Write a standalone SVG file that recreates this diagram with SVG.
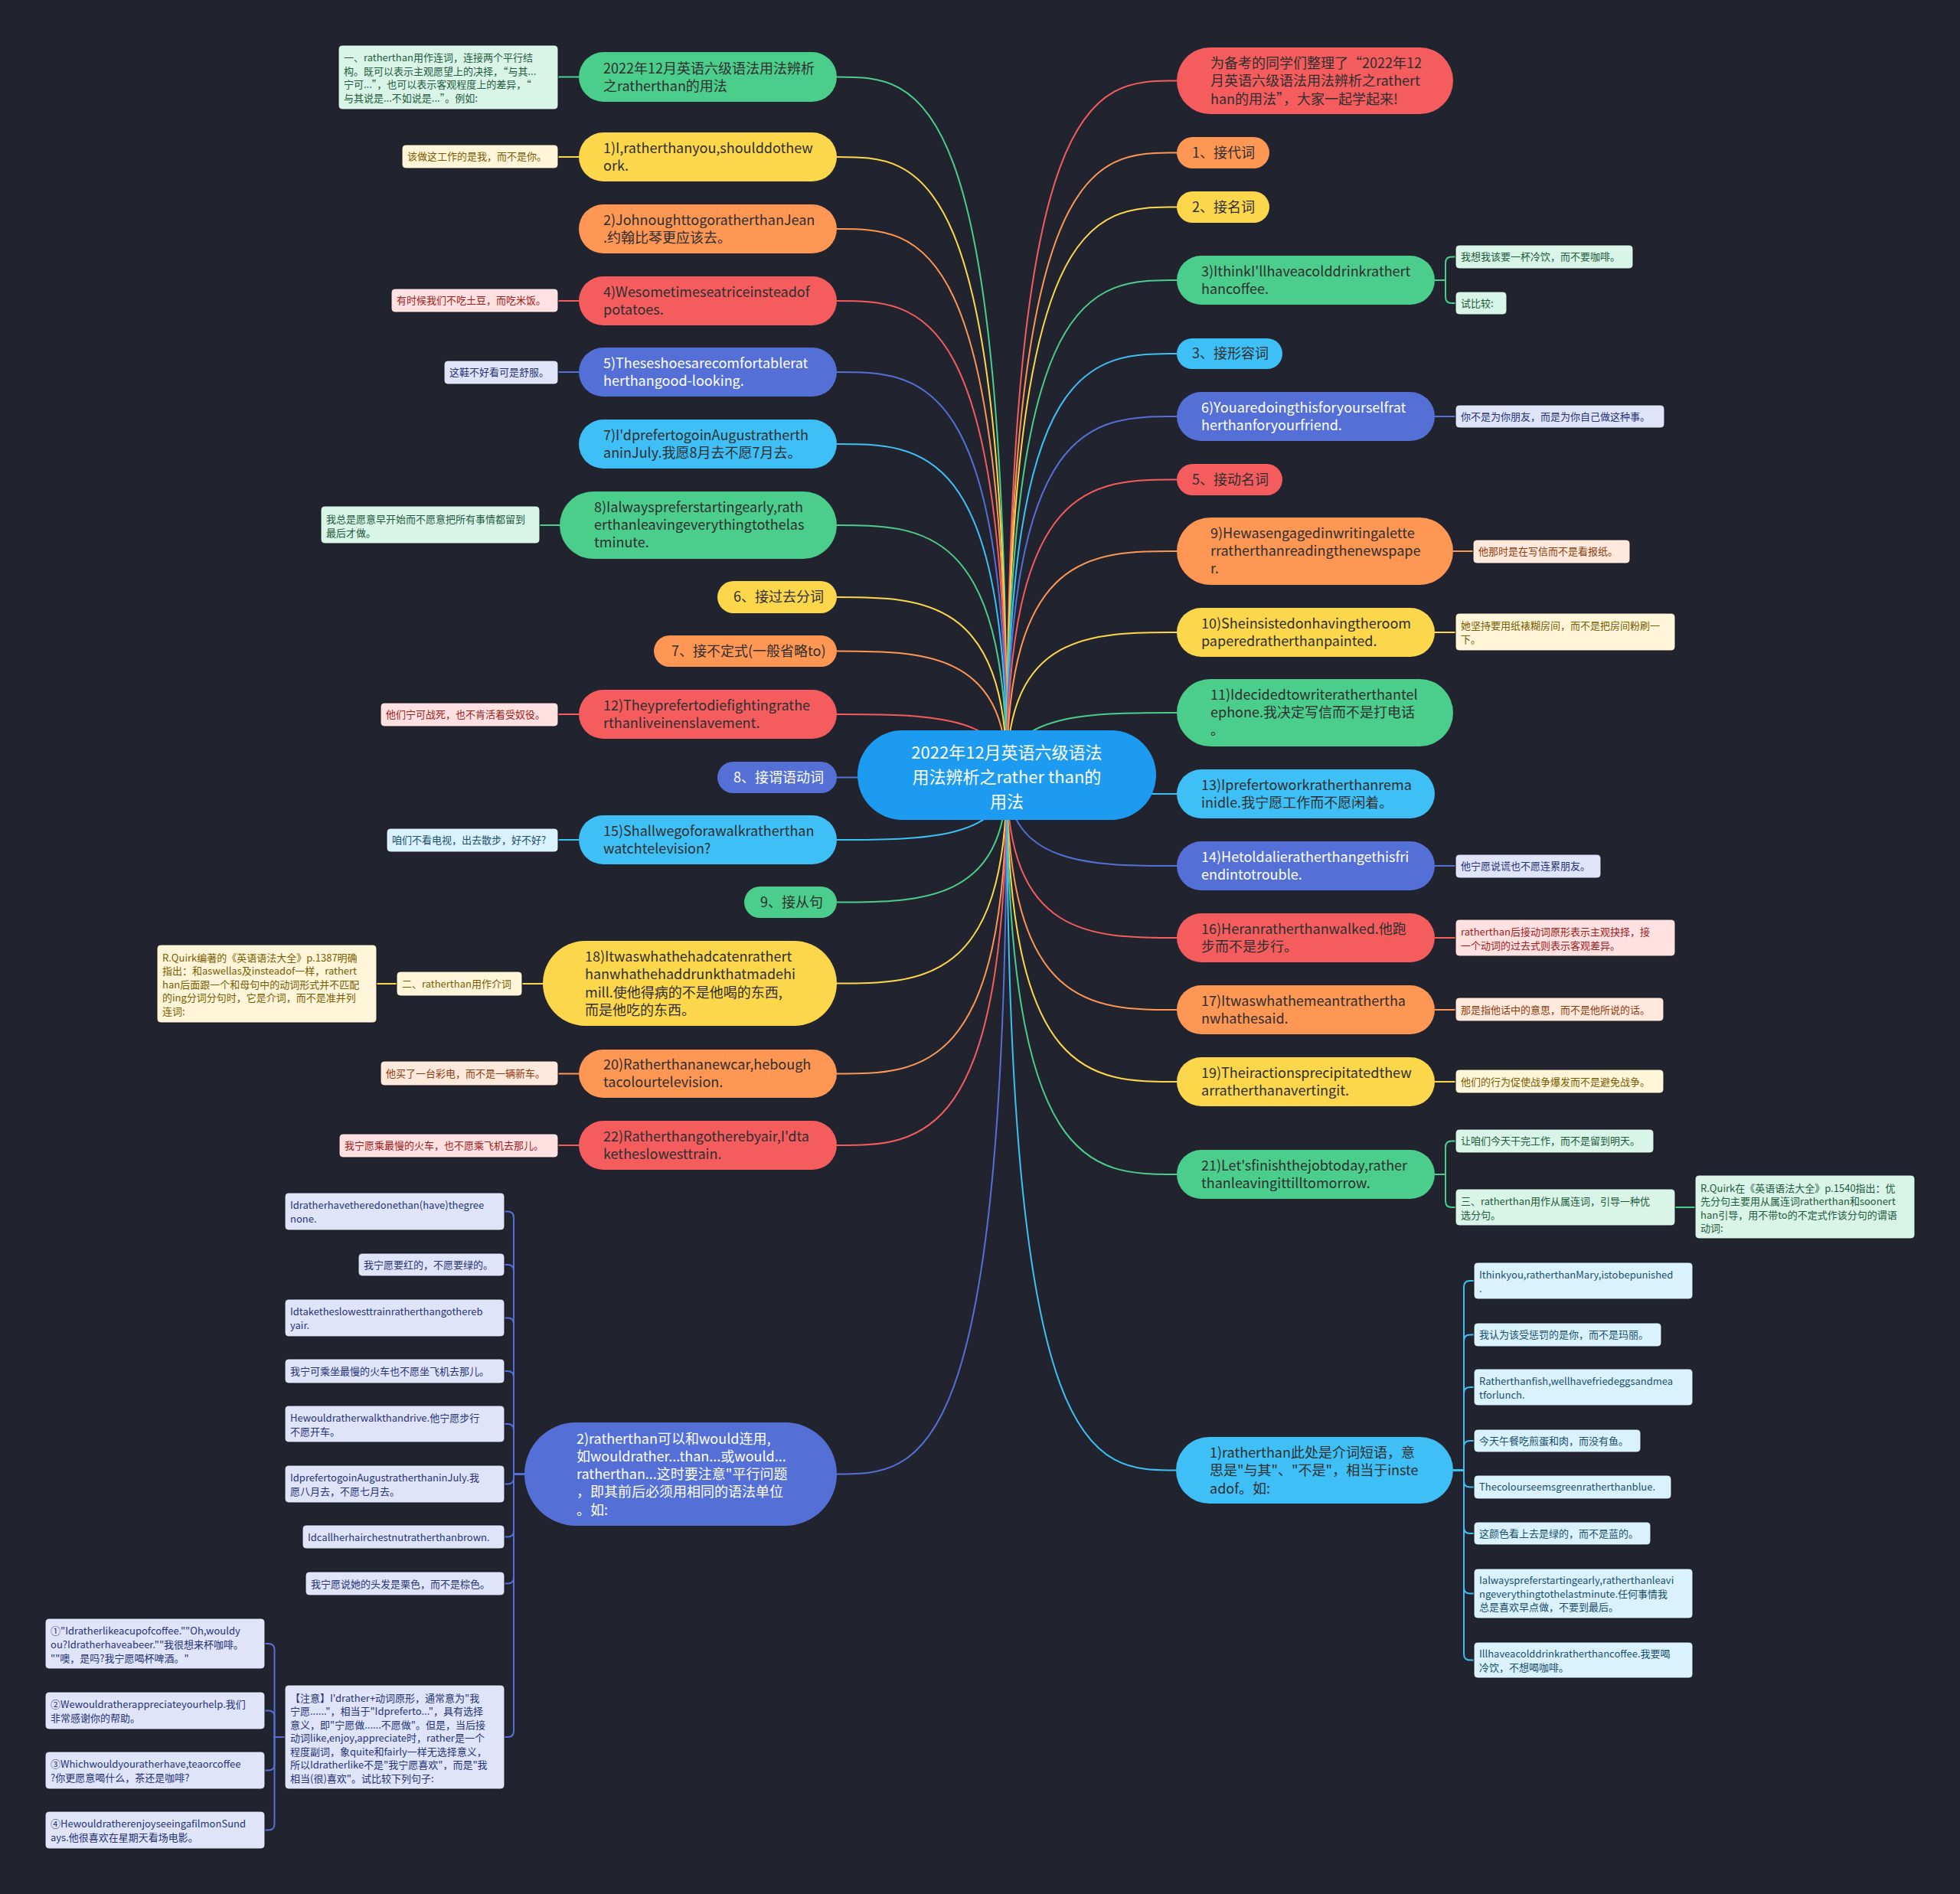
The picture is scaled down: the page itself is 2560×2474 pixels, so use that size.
<svg xmlns="http://www.w3.org/2000/svg" width="2560" height="2474" viewBox="0 0 2560 2474">
<style>
text{font-family:"Noto Sans CJK SC","Noto Sans",sans-serif;}
.m{font-size:18px;fill:#2f2f2f}
.mw{font-size:18px;fill:#ffffff}
.s{font-size:13px}
.ctr{font-size:22px;fill:#ffffff;text-anchor:middle}
.fg{fill:#4bcd8b}.fy{fill:#fdd74b}.fo{fill:#fe9654}.fr{fill:#f45c5e}.fb{fill:#5470d6}.fc{fill:#3ebff5}
.cg,.cy,.co,.cr,.cb,.cc{fill:none;stroke-width:2}
.cg{stroke:#4bcd8b}.cy{stroke:#fdd74b}.co{stroke:#fe9654}.cr{stroke:#f45c5e}.cb{stroke:#5470d6}.cc{stroke:#3ebff5}
.bg-g{fill:#d9f5e7}.bg-y{fill:#fff6d9}.bg-o{fill:#ffe8dc}.bg-r{fill:#ffe1e1}.bg-b{fill:#dfe4f8}.bg-c{fill:#d9f2fd}
.tg{fill:#1f5a3c}.ty{fill:#7a5a00}.to{fill:#8f3b0c}.tr{fill:#a01a1a}.tb{fill:#26337a}.tc{fill:#1a4f6e}
.sub{stroke:#15171f;stroke-width:1}
</style>
<rect x="0" y="0" width="2560" height="2474" fill="#21242f"/>

<g id="connectors">
<!-- center to left -->
<path class="cg" d="M1315 1013 C1315 100.5,1204 100.5,1093 100.5"/>
<path class="cy" d="M1315 1013 C1315 205,1204 205,1093 205"/>
<path class="co" d="M1315 1013 C1315 299,1204 299,1093 299"/>
<path class="cr" d="M1315 1013 C1315 393,1204 393,1093 393"/>
<path class="cb" d="M1315 1013 C1315 486,1204 486,1093 486"/>
<path class="cc" d="M1315 1013 C1315 580,1204 580,1093 580"/>
<path class="cg" d="M1315 1013 C1315 686,1204 686,1093 686"/>
<path class="cy" d="M1315 1013 C1315 780,1204 780,1093 780"/>
<path class="co" d="M1315 1013 C1315 850.5,1204 850.5,1093 850.5"/>
<path class="cr" d="M1315 1013 C1315 933,1204 933,1093 933"/>
<path class="cb" d="M1315 1013 C1315 1015.5,1204 1015.5,1093 1015.5"/>
<path class="cc" d="M1315 1013 C1315 1097,1204 1097,1093 1097"/>
<path class="cg" d="M1315 1013 C1315 1178.5,1204 1178.5,1093 1178.5"/>
<path class="cy" d="M1315 1013 C1315 1284.5,1204 1284.5,1093 1284.5"/>
<path class="co" d="M1315 1013 C1315 1402.5,1204 1402.5,1093 1402.5"/>
<path class="cr" d="M1315 1013 C1315 1496,1204 1496,1093 1496"/>
<path class="cb" d="M1315 1013 C1315 1925.5,1204 1925.5,1093 1925.5"/>
<!-- center to right -->
<path class="cr" d="M1315 1013 C1315 105.5,1426 105.5,1537 105.5"/>
<path class="co" d="M1315 1013 C1315 199.5,1426 199.5,1537 199.5"/>
<path class="cy" d="M1315 1013 C1315 270.5,1426 270.5,1537 270.5"/>
<path class="cg" d="M1315 1013 C1315 366,1426 366,1537 366"/>
<path class="cc" d="M1315 1013 C1315 462,1426 462,1537 462"/>
<path class="cb" d="M1315 1013 C1315 544,1426 544,1537 544"/>
<path class="cr" d="M1315 1013 C1315 626.5,1426 626.5,1537 626.5"/>
<path class="co" d="M1315 1013 C1315 720,1426 720,1537 720"/>
<path class="cy" d="M1315 1013 C1315 826,1426 826,1537 826"/>
<path class="cg" d="M1315 1013 C1315 931,1426 931,1537 931"/>
<path class="cc" d="M1315 1013 C1315 1037,1426 1037,1537 1037"/>
<path class="cb" d="M1315 1013 C1315 1131,1426 1131,1537 1131"/>
<path class="cr" d="M1315 1013 C1315 1225,1426 1225,1537 1225"/>
<path class="co" d="M1315 1013 C1315 1319,1426 1319,1537 1319"/>
<path class="cy" d="M1315 1013 C1315 1413,1426 1413,1537 1413"/>
<path class="cg" d="M1315 1013 C1315 1534,1426 1534,1537 1534"/>
<path class="cc" d="M1315 1013 C1315 1920.5,1426 1920.5,1537 1920.5"/>
<!-- left sub connectors -->
<path class="cg" d="M729 100.5 H756"/>
<path class="cy" d="M729 205 H756"/>
<path class="cr" d="M729 393 H756"/>
<path class="cb" d="M729 486 H756"/>
<path class="cg" d="M705 686 H731"/>
<path class="cr" d="M729 933 H756"/>
<path class="cc" d="M729 1097 H756"/>
<path class="cy" d="M682 1285 H709"/>
<path class="cy" d="M492 1285 H518"/>
<path class="co" d="M729 1402.5 H756"/>
<path class="cr" d="M729 1496 H756"/>
<path class="cb" d="M685 1925.5 H671 V1590.5 Q671 1582.5 663 1582.5 H659"/>
<path class="cb" d="M685 1925.5 H671 V1660 Q671 1652 663 1652 H659"/>
<path class="cb" d="M685 1925.5 H671 V1729.5 Q671 1721.5 663 1721.5 H659"/>
<path class="cb" d="M685 1925.5 H671 V1799 Q671 1791 663 1791 H659"/>
<path class="cb" d="M685 1925.5 H671 V1868 Q671 1860 663 1860 H659"/>
<path class="cb" d="M685 1925.5 H671 V1930.5 Q671 1938.5 663 1938.5 H659"/>
<path class="cb" d="M685 1925.5 H671 V1999.5 Q671 2007.5 663 2007.5 H659"/>
<path class="cb" d="M685 1925.5 H671 V2060.5 Q671 2068.5 663 2068.5 H659"/>
<path class="cb" d="M685 1925.5 H671 V2261 Q671 2269 663 2269 H659"/>
<path class="cb" d="M372 2269 H358.5 V2155 Q358.5 2147 350.5 2147 H345.5"/>
<path class="cb" d="M372 2269 H358.5 V2242.5 Q358.5 2234.5 350.5 2234.5 H345.5"/>
<path class="cb" d="M372 2269 H358.5 V2304.5 Q358.5 2312.5 350.5 2312.5 H345.5"/>
<path class="cb" d="M372 2269 H358.5 V2382.5 Q358.5 2390.5 350.5 2390.5 H345.5"/>
<!-- right sub connectors -->
<path class="cg" d="M1874 366 H1888 V343.5 Q1888 335.5 1896 335.5 H1901"/>
<path class="cg" d="M1874 366 H1888 V388 Q1888 396 1896 396 H1901"/>
<path class="cb" d="M1874 544 H1901"/>
<path class="co" d="M1898 720 H1924"/>
<path class="cy" d="M1874 826 H1901"/>
<path class="cb" d="M1874 1131 H1901"/>
<path class="cr" d="M1874 1225 H1901"/>
<path class="co" d="M1874 1319 H1901"/>
<path class="cy" d="M1874 1413 H1901"/>
<path class="cg" d="M1874 1534 H1888 V1498.5 Q1888 1490.5 1896 1490.5 H1901"/>
<path class="cg" d="M1874 1534 H1888 V1569 Q1888 1577 1896 1577 H1901"/>
<path class="cg" d="M2188 1577 H2214"/>
<path class="cc" d="M1898 1920.5 H1912 V1681 Q1912 1673 1920 1673 H1925"/>
<path class="cc" d="M1898 1920.5 H1912 V1751.5 Q1912 1743.5 1920 1743.5 H1925"/>
<path class="cc" d="M1898 1920.5 H1912 V1820 Q1912 1812 1920 1812 H1925"/>
<path class="cc" d="M1898 1920.5 H1912 V1890 Q1912 1882 1920 1882 H1925"/>
<path class="cc" d="M1898 1920.5 H1912 V1934.5 Q1912 1942.5 1920 1942.5 H1925"/>
<path class="cc" d="M1898 1920.5 H1912 V1995 Q1912 2003 1920 2003 H1925"/>
<path class="cc" d="M1898 1920.5 H1912 V2073.5 Q1912 2081.5 1920 2081.5 H1925"/>
<path class="cc" d="M1898 1920.5 H1912 V2160.5 Q1912 2168.5 1920 2168.5 H1925"/>
</g>

<g id="center">
<rect x="1120" y="954" width="390" height="117" rx="58.5" fill="#1d9bf0"/>
<text class="ctr" x="1315" y="991">2022年12月英语六级语法</text>
<text class="ctr" x="1315" y="1023">用法辨析之rather than的</text>
<text class="ctr" x="1315" y="1055">用法</text>
</g>

<!-- LEFT MAIN NODES -->
<g id="L1"><rect class="fg" x="756" y="68" width="337" height="65" rx="32.5"/>
<text class="m" x="788" y="96">2022年12月英语六级语法用法辨析</text><text class="m" x="788" y="119">之ratherthan的用法</text></g>
<g id="L2"><rect class="fy" x="756" y="173" width="337" height="64" rx="32"/>
<text class="m" x="788" y="200">1)I,ratherthanyou,shoulddothew</text><text class="m" x="788" y="223">ork.</text></g>
<g id="L3"><rect class="fo" x="756" y="267" width="337" height="64" rx="32"/>
<text class="m" x="788" y="294">2)JohnoughttogoratherthanJean</text><text class="m" x="788" y="317">.约翰比琴更应该去。</text></g>
<g id="L4"><rect class="fr" x="756" y="361" width="337" height="64" rx="32"/>
<text class="m" x="788" y="388">4)Wesometimeseatriceinsteadof</text><text class="m" x="788" y="411">potatoes.</text></g>
<g id="L5"><rect class="fb" x="756" y="454" width="337" height="64" rx="32"/>
<text class="mw" x="788" y="481">5)Theseshoesarecomfortablerat</text><text class="mw" x="788" y="504">herthangood-looking.</text></g>
<g id="L6"><rect class="fc" x="756" y="548" width="337" height="64" rx="32"/>
<text class="m" x="788" y="575">7)I'dprefertogoinAugustratherth</text><text class="m" x="788" y="598">aninJuly.我愿8月去不愿7月去。</text></g>
<g id="L7"><rect class="fg" x="731" y="642" width="362" height="88" rx="44"/>
<text class="m" x="776" y="669">8)Ialwayspreferstartingearly,rath</text><text class="m" x="776" y="692">erthanleavingeverythingtothelas</text><text class="m" x="776" y="715">tminute.</text></g>
<g id="L8"><rect class="fy" x="937" y="759" width="156" height="42" rx="21"/>
<text class="m" x="958" y="786">6、接过去分词</text></g>
<g id="L9"><rect class="fo" x="854" y="830" width="239" height="41" rx="20.5"/>
<text class="m" x="877" y="857">7、接不定式(一般省略to)</text></g>
<g id="L10"><rect class="fr" x="756" y="901" width="337" height="64" rx="32"/>
<text class="m" x="788" y="928">12)Theyprefertodiefightingrathe</text><text class="m" x="788" y="951">rthanliveinenslavement.</text></g>
<g id="L11"><rect class="fb" x="937" y="995" width="156" height="41" rx="20.5"/>
<text class="mw" x="958" y="1022">8、接谓语动词</text></g>
<g id="L12"><rect class="fc" x="756" y="1065" width="337" height="64" rx="32"/>
<text class="m" x="788" y="1092">15)Shallwegoforawalkratherthan</text><text class="m" x="788" y="1115">watchtelevision?</text></g>
<g id="L13"><rect class="fg" x="972" y="1158" width="121" height="41" rx="20.5"/>
<text class="m" x="993" y="1185">9、接从句</text></g>
<g id="L14"><rect class="fy" x="709" y="1229" width="384" height="111" rx="55.5"/>
<text class="m" x="764" y="1256">18)Itwaswhathehadcatenrathert</text><text class="m" x="764" y="1279">hanwhathehaddrunkthatmadehi</text><text class="m" x="764" y="1303">mill.使他得病的不是他喝的东西,</text><text class="m" x="764" y="1326">而是他吃的东西。</text></g>
<g id="L15"><rect class="fo" x="756" y="1371" width="337" height="63" rx="31.5"/>
<text class="m" x="788" y="1397">20)Ratherthananewcar,hebough</text><text class="m" x="788" y="1420">tacolourtelevision.</text></g>
<g id="L16"><rect class="fr" x="756" y="1464" width="337" height="64" rx="32"/>
<text class="m" x="788" y="1491">22)Ratherthangotherebyair,I'dta</text><text class="m" x="788" y="1514">ketheslowesttrain.</text></g>
<g id="L17"><rect class="fb" x="685" y="1858" width="408" height="135" rx="67.5"/>
<text class="mw" x="753" y="1886">2)ratherthan可以和would连用,</text><text class="mw" x="753" y="1909">如wouldrather...than...或would...</text><text class="mw" x="753" y="1932">ratherthan...这时要注意"平行问题</text><text class="mw" x="753" y="1955">，即其前后必须用相同的语法单位</text><text class="mw" x="753" y="1979">。如:</text></g>

<!-- LEFT SUB NODES -->
<g id="S1"><rect class="bg-g sub" x="442" y="59" width="287" height="84" rx="5"/>
<text class="s tg" x="449" y="80">一、ratherthan用作连词，连接两个平行结</text><text class="s tg" x="449" y="98">构。既可以表示主观愿望上的决择，“与其...</text><text class="s tg" x="449" y="115">宁可...”，也可以表示客观程度上的差异，“</text><text class="s tg" x="449" y="133">与其说是...不如说是...”。例如:</text></g>
<g id="S2"><rect class="bg-y sub" x="525" y="189" width="204" height="31" rx="5"/><text class="s ty" x="532" y="209">该做这工作的是我，而不是你。</text></g>
<g id="S3"><rect class="bg-r sub" x="511" y="377" width="218" height="31" rx="5"/><text class="s tr" x="518" y="397">有时候我们不吃土豆，而吃米饭。</text></g>
<g id="S4"><rect class="bg-b sub" x="580" y="471" width="149" height="31" rx="5"/><text class="s tb" x="587" y="491">这鞋不好看可是舒服。</text></g>
<g id="S5"><rect class="bg-g sub" x="419" y="661" width="286" height="49" rx="5"/><text class="s tg" x="426" y="683">我总是愿意早开始而不愿意把所有事情都留到</text><text class="s tg" x="426" y="701">最后才做。</text></g>
<g id="S6"><rect class="bg-r sub" x="497" y="918" width="232" height="31" rx="5"/><text class="s tr" x="504" y="938">他们宁可战死，也不肯活着受奴役。</text></g>
<g id="S7"><rect class="bg-c sub" x="505" y="1082" width="224" height="31" rx="5"/><text class="s tc" x="512" y="1102">咱们不看电视，出去散步，好不好?</text></g>
<g id="S8"><rect class="bg-y sub" x="518" y="1269" width="164" height="32" rx="5"/><text class="s ty" x="525" y="1290">二、ratherthan用作介词</text></g>
<g id="S9"><rect class="bg-y sub" x="205" y="1234" width="287" height="102" rx="5"/>
<text class="s ty" x="212" y="1256">R.Quirk编著的《英语语法大全》p.1387明确</text><text class="s ty" x="212" y="1273">指出：和aswellas及insteadof一样，rathert</text><text class="s ty" x="212" y="1291">han后面跟一个和母句中的动词形式并不匹配</text><text class="s ty" x="212" y="1308">的ing分词分句时，它是介词，而不是准并列</text><text class="s ty" x="212" y="1326">连词:</text></g>
<g id="S10"><rect class="bg-o sub" x="497" y="1386" width="232" height="32" rx="5"/><text class="s to" x="504" y="1407">他买了一台彩电，而不是一辆新车。</text></g>
<g id="S11"><rect class="bg-r sub" x="443" y="1481" width="286" height="31" rx="5"/><text class="s tr" x="450" y="1501">我宁愿乘最慢的火车，也不愿乘飞机去那儿。</text></g>

<g id="K1"><rect class="bg-b sub" x="372" y="1558" width="287" height="49" rx="5"/><text class="s tb" x="379" y="1579">Idratherhavetheredonethan(have)thegree</text><text class="s tb" x="379" y="1597">none.</text></g>
<g id="K2"><rect class="bg-b sub" x="468" y="1637" width="191" height="30" rx="5"/><text class="s tb" x="475" y="1656.5">我宁愿要红的，不愿要绿的。</text></g>
<g id="K3"><rect class="bg-b sub" x="372" y="1697" width="287" height="49" rx="5"/><text class="s tb" x="379" y="1718">Idtaketheslowesttrainratherthangothereb</text><text class="s tb" x="379" y="1736">yair.</text></g>
<g id="K4"><rect class="bg-b sub" x="372" y="1775" width="287" height="32" rx="5"/><text class="s tb" x="379" y="1795.5">我宁可乘坐最慢的火车也不愿坐飞机去那儿。</text></g>
<g id="K5"><rect class="bg-b sub" x="372" y="1836" width="287" height="48" rx="5"/><text class="s tb" x="379" y="1857">Hewouldratherwalkthandrive.他宁愿步行</text><text class="s tb" x="379" y="1875">不愿开车。</text></g>
<g id="K6"><rect class="bg-b sub" x="372" y="1914" width="287" height="49" rx="5"/><text class="s tb" x="379" y="1935">IdprefertogoinAugustratherthaninJuly.我</text><text class="s tb" x="379" y="1953">愿八月去，不愿七月去。</text></g>
<g id="K7"><rect class="bg-b sub" x="395" y="1992" width="264" height="31" rx="5"/><text class="s tb" x="402" y="2012.5">Idcallherhairchestnutratherthanbrown.</text></g>
<g id="K8"><rect class="bg-b sub" x="399" y="2053" width="260" height="31" rx="5"/><text class="s tb" x="406" y="2073.5">我宁愿说她的头发是栗色，而不是棕色。</text></g>
<g id="K9"><rect class="bg-b sub" x="372" y="2201" width="287" height="136" rx="5"/>
<text class="s tb" x="379" y="2222.5">【注意】I'drather+动词原形，通常意为"我</text><text class="s tb" x="379" y="2240">宁愿......"，相当于"Idpreferto..."，具有选择</text><text class="s tb" x="379" y="2257.5">意义，即"宁愿做......不愿做"。但是，当后接</text><text class="s tb" x="379" y="2275">动词like,enjoy,appreciate时，rather是一个</text><text class="s tb" x="379" y="2292.5">程度副词，象quite和fairly一样无选择意义，</text><text class="s tb" x="379" y="2310">所以Idratherlike不是"我宁愿喜欢"，而是"我</text><text class="s tb" x="379" y="2327.5">相当(很)喜欢"。试比较下列句子:</text></g>
<g id="Q1"><rect class="bg-b sub" x="59" y="2114" width="287" height="66" rx="5"/><text class="s tb" x="66" y="2134.5">①"Idratherlikeacupofcoffee.""Oh,wouldy</text><text class="s tb" x="66" y="2152.5">ou?Idratherhaveabeer.""我很想来杯咖啡。</text><text class="s tb" x="66" y="2170.5">""噢，是吗?我宁愿喝杯啤酒。"</text></g>
<g id="Q2"><rect class="bg-b sub" x="59" y="2210" width="287" height="49" rx="5"/><text class="s tb" x="66" y="2231">②Wewouldratherappreciateyourhelp.我们</text><text class="s tb" x="66" y="2249">非常感谢你的帮助。</text></g>
<g id="Q3"><rect class="bg-b sub" x="59" y="2288" width="287" height="49" rx="5"/><text class="s tb" x="66" y="2309">③Whichwouldyouratherhave,teaorcoffee</text><text class="s tb" x="66" y="2327">?你更愿意喝什么，茶还是咖啡?</text></g>
<g id="Q4"><rect class="bg-b sub" x="59" y="2366" width="287" height="49" rx="5"/><text class="s tb" x="66" y="2387">④HewouldratherenjoyseeingafilmonSund</text><text class="s tb" x="66" y="2405">ays.他很喜欢在星期天看场电影。</text></g>

<!-- RIGHT MAIN NODES -->
<g id="R1"><rect class="fr" x="1537" y="62" width="361" height="87" rx="43.5"/>
<text class="m" x="1581" y="89">为备考的同学们整理了“2022年12</text><text class="m" x="1581" y="112">月英语六级语法用法辨析之rathert</text><text class="m" x="1581" y="136">han的用法”，大家一起学起来!</text></g>
<g id="R2"><rect class="fo" x="1537" y="179" width="121" height="41" rx="20.5"/><text class="m" x="1557" y="206">1、接代词</text></g>
<g id="R3"><rect class="fy" x="1537" y="250" width="121" height="41" rx="20.5"/><text class="m" x="1557" y="277">2、接名词</text></g>
<g id="R4"><rect class="fg" x="1537" y="334" width="337" height="64" rx="32"/>
<text class="m" x="1569" y="361">3)IthinkI'llhaveacolddrinkrathert</text><text class="m" x="1569" y="384">hancoffee.</text></g>
<g id="R5"><rect class="fc" x="1537" y="442" width="138" height="40" rx="20"/><text class="m" x="1557" y="468">3、接形容词</text></g>
<g id="R6"><rect class="fb" x="1537" y="512" width="337" height="64" rx="32"/>
<text class="mw" x="1569" y="539">6)Youaredoingthisforyourselfrat</text><text class="mw" x="1569" y="562">herthanforyourfriend.</text></g>
<g id="R7"><rect class="fr" x="1537" y="606" width="138" height="41" rx="20.5"/><text class="m" x="1557" y="633">5、接动名词</text></g>
<g id="R8"><rect class="fo" x="1537" y="676" width="361" height="88" rx="44"/>
<text class="m" x="1581" y="703">9)Hewasengagedinwritingalette</text><text class="m" x="1581" y="726">rratherthanreadingthenewspape</text><text class="m" x="1581" y="749">r.</text></g>
<g id="R9"><rect class="fy" x="1537" y="794" width="337" height="64" rx="32"/>
<text class="m" x="1569" y="821">10)Sheinsistedonhavingtheroom</text><text class="m" x="1569" y="844">paperedratherthanpainted.</text></g>
<g id="R10"><rect class="fg" x="1537" y="887" width="361" height="88" rx="44"/>
<text class="m" x="1581" y="914">11)Idecidedtowriteratherthantel</text><text class="m" x="1581" y="937">ephone.我决定写信而不是打电话</text><text class="m" x="1581" y="960">。</text></g>
<g id="R11"><rect class="fc" x="1537" y="1005" width="337" height="64" rx="32"/>
<text class="m" x="1569" y="1032">13)Iprefertoworkratherthanrema</text><text class="m" x="1569" y="1055">inidle.我宁愿工作而不愿闲着。</text></g>
<g id="R12"><rect class="fb" x="1537" y="1099" width="337" height="64" rx="32"/>
<text class="mw" x="1569" y="1126">14)Hetoldalieratherthangethisfri</text><text class="mw" x="1569" y="1149">endintotrouble.</text></g>
<g id="R13"><rect class="fr" x="1537" y="1193" width="337" height="64" rx="32"/>
<text class="m" x="1569" y="1220">16)Heranratherthanwalked.他跑</text><text class="m" x="1569" y="1243">步而不是步行。</text></g>
<g id="R14"><rect class="fo" x="1537" y="1287" width="337" height="64" rx="32"/>
<text class="m" x="1569" y="1314">17)Itwaswhathemeantrathertha</text><text class="m" x="1569" y="1337">nwhathesaid.</text></g>
<g id="R15"><rect class="fy" x="1537" y="1381" width="337" height="64" rx="32"/>
<text class="m" x="1569" y="1408">19)Theiractionsprecipitatedthew</text><text class="m" x="1569" y="1431">arratherthanavertingit.</text></g>
<g id="R16"><rect class="fg" x="1537" y="1502" width="337" height="64" rx="32"/>
<text class="m" x="1569" y="1529">21)Let'sfinishthejobtoday,rather</text><text class="m" x="1569" y="1552">thanleavingittilltomorrow.</text></g>
<g id="R17"><rect class="fc" x="1536" y="1877" width="362" height="87" rx="43.5"/>
<text class="m" x="1580" y="1904">1)ratherthan此处是介词短语，意</text><text class="m" x="1580" y="1927">思是"与其"、"不是"，相当于inste</text><text class="m" x="1580" y="1951">adof。如:</text></g>

<!-- RIGHT SUB NODES -->
<g id="RS1"><rect class="bg-g sub" x="1901" y="320" width="232" height="31" rx="5"/><text class="s tg" x="1908" y="340">我想我该要一杯冷饮，而不要咖啡。</text></g>
<g id="RS2"><rect class="bg-g sub" x="1901" y="381" width="67" height="30" rx="5"/><text class="s tg" x="1908" y="400.5">试比较:</text></g>
<g id="RS3"><rect class="bg-b sub" x="1901" y="529" width="273" height="30" rx="5"/><text class="s tb" x="1908" y="548.5">你不是为你朋友，而是为你自己做这种事。</text></g>
<g id="RS4"><rect class="bg-o sub" x="1924" y="705" width="205" height="31" rx="5"/><text class="s to" x="1931" y="725">他那时是在写信而不是看报纸。</text></g>
<g id="RS5"><rect class="bg-y sub" x="1901" y="801" width="287" height="49" rx="5"/><text class="s ty" x="1908" y="822">她坚持要用纸裱糊房间，而不是把房间粉刷一</text><text class="s ty" x="1908" y="840">下。</text></g>
<g id="RS6"><rect class="bg-b sub" x="1901" y="1116" width="190" height="31" rx="5"/><text class="s tb" x="1908" y="1136">他宁愿说谎也不愿连累朋友。</text></g>
<g id="RS7"><rect class="bg-r sub" x="1901" y="1201" width="287" height="48" rx="5"/><text class="s tr" x="1908" y="1221.5">ratherthan后接动词原形表示主观抉择，接</text><text class="s tr" x="1908" y="1239.5">一个动词的过去式则表示客观差异。</text></g>
<g id="RS8"><rect class="bg-o sub" x="1901" y="1303" width="272" height="31" rx="5"/><text class="s to" x="1908" y="1323.5">那是指他话中的意思，而不是他所说的话。</text></g>
<g id="RS9"><rect class="bg-y sub" x="1901" y="1397" width="272" height="31" rx="5"/><text class="s ty" x="1908" y="1417.5">他们的行为促使战争爆发而不是避免战争。</text></g>
<g id="RS10"><rect class="bg-g sub" x="1901" y="1475" width="259" height="31" rx="5"/><text class="s tg" x="1908" y="1495">让咱们今天干完工作，而不是留到明天。</text></g>
<g id="RS11"><rect class="bg-g sub" x="1901" y="1553" width="287" height="48" rx="5"/><text class="s tg" x="1908" y="1573.5">三、ratherthan用作从属连词，引导一种优</text><text class="s tg" x="1908" y="1591.5">选分句。</text></g>
<g id="RS12"><rect class="bg-g sub" x="2214" y="1535" width="287" height="83" rx="5"/>
<text class="s tg" x="2221" y="1556.5">R.Quirk在《英语语法大全》p.1540指出：优</text><text class="s tg" x="2221" y="1574">先分句主要用从属连词ratherthan和soonert</text><text class="s tg" x="2221" y="1591.5">han引导，用不带to的不定式作该分句的谓语</text><text class="s tg" x="2221" y="1609">动词:</text></g>

<g id="C1"><rect class="bg-c sub" x="1925" y="1649" width="286" height="48" rx="5"/><text class="s tc" x="1932" y="1670">Ithinkyou,ratherthanMary,istobepunished</text><text class="s tc" x="1932" y="1688">.</text></g>
<g id="C2"><rect class="bg-c sub" x="1925" y="1728" width="245" height="31" rx="5"/><text class="s tc" x="1932" y="1748">我认为该受惩罚的是你，而不是玛丽。</text></g>
<g id="C3"><rect class="bg-c sub" x="1925" y="1788" width="286" height="48" rx="5"/><text class="s tc" x="1932" y="1809">Ratherthanfish,wellhavefriedeggsandmea</text><text class="s tc" x="1932" y="1827">tforlunch.</text></g>
<g id="C4"><rect class="bg-c sub" x="1925" y="1867" width="218" height="30" rx="5"/><text class="s tc" x="1932" y="1886.5">今天午餐吃煎蛋和肉，而没有鱼。</text></g>
<g id="C5"><rect class="bg-c sub" x="1925" y="1927" width="258" height="31" rx="5"/><text class="s tc" x="1932" y="1947">Thecolourseemsgreenratherthanblue.</text></g>
<g id="C6"><rect class="bg-c sub" x="1925" y="1988" width="231" height="30" rx="5"/><text class="s tc" x="1932" y="2007.5">这颜色看上去是绿的，而不是蓝的。</text></g>
<g id="C7"><rect class="bg-c sub" x="1925" y="2049" width="286" height="65" rx="5"/><text class="s tc" x="1932" y="2069">Ialwayspreferstartingearly,ratherthanleavi</text><text class="s tc" x="1932" y="2087">ngeverythingtothelastminute.任何事情我</text><text class="s tc" x="1932" y="2104">总是喜欢早点做，不要到最后。</text></g>
<g id="C8"><rect class="bg-c sub" x="1925" y="2145" width="286" height="47" rx="5"/><text class="s tc" x="1932" y="2165">Illhaveacolddrinkratherthancoffee.我要喝</text><text class="s tc" x="1932" y="2183">冷饮，不想喝咖啡。</text></g>
</svg>
